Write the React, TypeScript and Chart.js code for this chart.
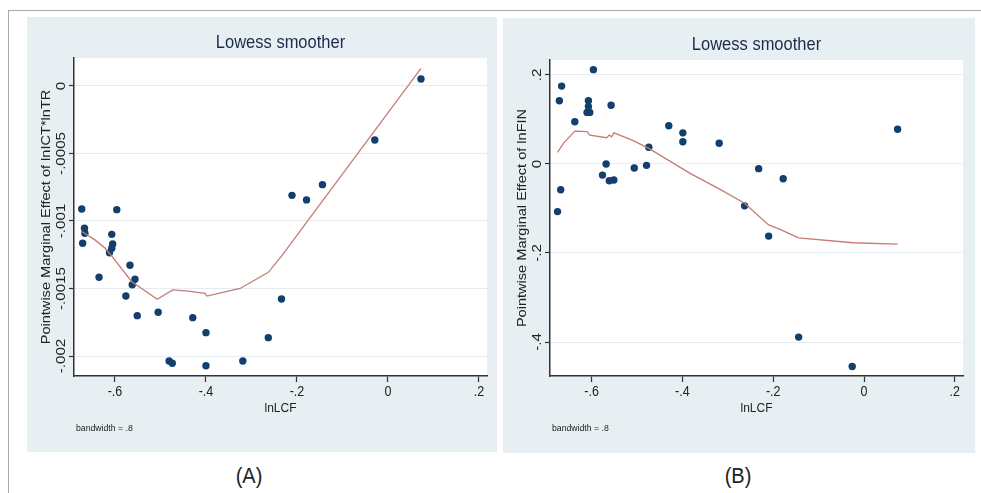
import React, { useEffect, useRef } from "react";
import { Chart, registerables } from "chart.js";
Chart.register(...registerables);

// ---- tick definitions ----
const xTicks = [-0.6, -0.4, -0.2, 0, 0.2];
const xTickLabels = ["-.6", "-.4", "-.2", "0", ".2"];
const yTicksA = [0, -0.0005, -0.001, -0.0015, -0.002];
const yTickLabelsA = ["0", "-.0005", "-.001", "-.0015", "-.002"];
const yTicksB = [0.2, 0, -0.2, -0.4];
const yTickLabelsB = [".2", "0", "-.2", "-.4"];

// ---- panel A data: lnLCF vs marginal effect of lnICT*lnTR ----
const lnLCF_A = [-0.673, -0.596, -0.667, -0.666, -0.671, -0.607, -0.605, -0.607, -0.612, -0.635, -0.567, -0.556, -0.562, -0.576, -0.551, -0.505, -0.481, -0.474, -0.429, -0.4, -0.4, -0.319, -0.263, -0.234, -0.211, -0.179, -0.144, -0.029, 0.0725];
const effectA = [-0.000911, -0.000916, -0.001054, -0.001091, -0.001165, -0.001099, -0.00117, -0.001202, -0.001235, -0.001417, -0.001328, -0.001432, -0.001472, -0.001556, -0.001701, -0.001676, -0.002037, -0.002054, -0.001716, -0.001827, -0.002072, -0.002037, -0.001864, -0.001578, -0.00081, -0.000844, -0.000731, -0.0004, 0.000052];
const lowessX_A = [-0.672, -0.644, -0.622, -0.607, -0.563, -0.507, -0.473, -0.439, -0.402, -0.398, -0.325, -0.263, -0.234, 0.0725];
const lowessY_A = [-0.00108, -0.00114, -0.0012, -0.00126, -0.00145, -0.00158, -0.00151, -0.00152, -0.001536, -0.001556, -0.0015, -0.00138, -0.00126, 0.00013];

// ---- panel B data: lnLCF vs marginal effect of lnFIN ----
const lnLCF_B = [-0.596, -0.666, -0.671, -0.607, -0.607, -0.61, -0.604, -0.557, -0.637, -0.568, -0.576, -0.561, -0.551, -0.668, -0.675, -0.506, -0.479, -0.474, -0.43, -0.399, -0.399, -0.319, -0.232, -0.178, -0.263, -0.21, -0.144, -0.026, 0.074];
const effectB = [0.212, 0.175, 0.142, 0.142, 0.129, 0.116, 0.116, 0.132, 0.095, 0.0, -0.025, -0.0375, -0.036, -0.058, -0.107, -0.009, -0.003, 0.0375, 0.086, 0.07, 0.05, 0.0465, -0.0105, -0.033, -0.094, -0.162, -0.389, -0.455, 0.078];
const lowessX_B = [-0.675, -0.662, -0.637, -0.61, -0.604, -0.567, -0.561, -0.556, -0.551, -0.512, -0.474, -0.383, -0.317, -0.263, -0.21, -0.185, -0.144, -0.024, 0.074];
const lowessY_B = [0.026, 0.0465, 0.074, 0.0726, 0.065, 0.059, 0.065, 0.061, 0.07, 0.054, 0.035, -0.021, -0.057, -0.088, -0.137, -0.147, -0.166, -0.177, -0.18];

const FONT = '"Liberation Sans", Arial, sans-serif';
const BG = "#e7eff2";
const DOT = "#123f6c";
const LINE = "#c67b75";
const STRETCH = 1.12; // reference text looks vertically stretched

type PanelCfg = {
  title: string;
  yTitle: string;
  xs: number[];
  ys: number[];
  lx: number[];
  ly: number[];
  yTicks: number[];
  yLabels: string[];
  xMin: number;
  xMax: number;
  yMin: number;
  yMax: number;
  padding: { left: number; top: number; right: number; bottom: number };
};

function txt(ctx: CanvasRenderingContext2D, s: string, x: number, y: number, vertical: boolean) {
  ctx.save();
  ctx.translate(x, y);
  if (vertical) {
    ctx.rotate(-Math.PI / 2);
    ctx.scale(STRETCH, 1);
  } else {
    ctx.scale(1, STRETCH);
  }
  ctx.fillText(s, 0, 0);
  ctx.restore();
}

function decoPlugin(cfg: PanelCfg) {
  return {
    id: "panelDeco",
    beforeDraw(chart: any) {
      const { ctx, chartArea: a, width, height } = chart;
      ctx.save();
      ctx.fillStyle = BG;
      ctx.fillRect(0, 0, width, height);
      ctx.fillStyle = "#ffffff";
      ctx.fillRect(a.left, a.top, a.right - a.left, a.bottom - a.top);
      ctx.restore();
    },
    afterDraw(chart: any) {
      const { ctx, chartArea: a, scales } = chart;
      const sx = scales.x;
      const sy = scales.y;
      const cx = (a.left + a.right) / 2;
      const cy = (a.top + a.bottom) / 2;
      ctx.save();
      ctx.textAlign = "center";
      ctx.textBaseline = "middle";
      // title
      ctx.fillStyle = "#1c2a4d";
      ctx.font = `16.5px ${FONT}`;
      txt(ctx, cfg.title, cx, a.top - 15, false);
      // x tick labels
      ctx.fillStyle = "#222";
      ctx.font = `12.5px ${FONT}`;
      xTicks.forEach((v, i) => {
        txt(ctx, xTickLabels[i], sx.getPixelForValue(v), a.bottom + 16, false);
      });
      // y tick labels (vertical)
      ctx.font = `13.5px ${FONT}`;
      cfg.yTicks.forEach((v, i) => {
        txt(ctx, cfg.yLabels[i], a.left - 13, sy.getPixelForValue(v), true);
      });
      // x title
      ctx.font = `12px ${FONT}`;
      txt(ctx, "lnLCF", cx, a.bottom + 32, false);
      // y title
      ctx.font = `13px ${FONT}`;
      txt(ctx, cfg.yTitle, a.left - 28, cy, true);
      // bandwidth note
      ctx.font = `8.7px ${FONT}`;
      ctx.textAlign = "left";
      txt(ctx, "bandwidth = .8", a.left + 2, a.bottom + 52, false);
      ctx.restore();
    },
  };
}

function Panel({ cfg, left, top, width, height }: { cfg: PanelCfg; left: number; top: number; width: number; height: number }) {
  const ref = useRef<HTMLCanvasElement | null>(null);
  useEffect(() => {
    if (!ref.current) return;
    const scatterPts = cfg.xs.map((x, i) => ({ x, y: cfg.ys[i] }));
    const linePts = cfg.lx.map((x, i) => ({ x, y: cfg.ly[i] }));
    const chart = new Chart(ref.current, {
      type: "scatter",
      data: {
        datasets: [
          {
            data: linePts,
            showLine: true,
            borderColor: LINE,
            borderWidth: 1.3,
            pointRadius: 0,
            fill: false,
            tension: 0,
          } as any,
          {
            data: scatterPts,
            pointRadius: 3.7,
            pointBackgroundColor: DOT,
            pointBorderWidth: 0,
            borderWidth: 0,
          } as any,
        ],
      },
      options: {
        responsive: false,
        animation: false,
        devicePixelRatio: 1,
        layout: { padding: cfg.padding },
        plugins: { legend: { display: false }, tooltip: { enabled: false }, title: { display: false } },
        scales: {
          x: {
            type: "linear",
            min: cfg.xMin,
            max: cfg.xMax,
            afterBuildTicks: (axis: any) => {
              axis.ticks = xTicks.map((v) => ({ value: v }));
            },
            ticks: { display: false },
            grid: { display: true, drawOnChartArea: false, drawTicks: true, tickLength: 6, tickColor: "#333", tickWidth: 1.2 },
            border: { display: true, color: "#333", width: 1.5 },
          },
          y: {
            type: "linear",
            min: cfg.yMin,
            max: cfg.yMax,
            afterBuildTicks: (axis: any) => {
              axis.ticks = cfg.yTicks.map((v) => ({ value: v }));
            },
            ticks: { display: false },
            grid: { display: true, drawOnChartArea: true, drawTicks: true, tickLength: 5, color: "#e4edf1", lineWidth: 1, tickColor: "#333", tickWidth: 1.2 },
            border: { display: true, color: "#333", width: 1.5 },
          },
        },
      } as any,
      plugins: [decoPlugin(cfg)],
    });
    return () => chart.destroy();
  }, [cfg]);
  return (
    <canvas
      ref={ref}
      width={width}
      height={height}
      style={{ position: "absolute", left, top, width, height }}
    />
  );
}

const cfgA: PanelCfg = {
  title: "Lowess smoother",
  yTitle: "Pointwise Marginal Effect of lnICT*lnTR",
  xs: lnLCF_A,
  ys: effectA,
  lx: lowessX_A,
  ly: lowessY_A,
  yTicks: yTicksA,
  yLabels: yTickLabelsA,
  xMin: -0.69,
  xMax: 0.2176,
  yMin: -0.002148,
  yMax: 0.000207,
  padding: { left: 42, top: 41, right: 10, bottom: 70 },
};

const cfgB: PanelCfg = {
  title: "Lowess smoother",
  yTitle: "Pointwise Marginal Effect of lnFIN",
  xs: lnLCF_B,
  ys: effectB,
  lx: lowessX_B,
  ly: lowessY_B,
  yTicks: yTicksB,
  yLabels: yTickLabelsB,
  xMin: -0.6916,
  xMax: 0.218,
  yMin: -0.4764,
  yMax: 0.2337,
  padding: { left: 42, top: 42, right: 12, bottom: 71 },
};

const captionStyle = (left: number): React.CSSProperties => ({
  position: "absolute",
  left,
  top: 475,
  transform: "translate(-50%,-50%) scaleY(1.08)",
  font: `20px ${FONT}`,
  color: "#222",
  lineHeight: "20px",
});

export default function App() {
  return (
    <div style={{ position: "absolute", left: 0, top: 0, width: 981, height: 493, background: "#fff", overflow: "hidden" }}>
      <div
        style={{
          position: "absolute",
          left: 8,
          top: 10,
          width: 973,
          height: 483,
          borderTop: "1px solid #a8a8a8",
          borderLeft: "1px solid #a8a8a8",
          boxSizing: "border-box",
        }}
      />
      <Panel cfg={cfgA} left={27} top={17} width={470} height={435} />
      <Panel cfg={cfgB} left={503} top={18} width={472} height={435} />
      <div style={captionStyle(249)}>(A)</div>
      <div style={captionStyle(738)}>(B)</div>
    </div>
  );
}
